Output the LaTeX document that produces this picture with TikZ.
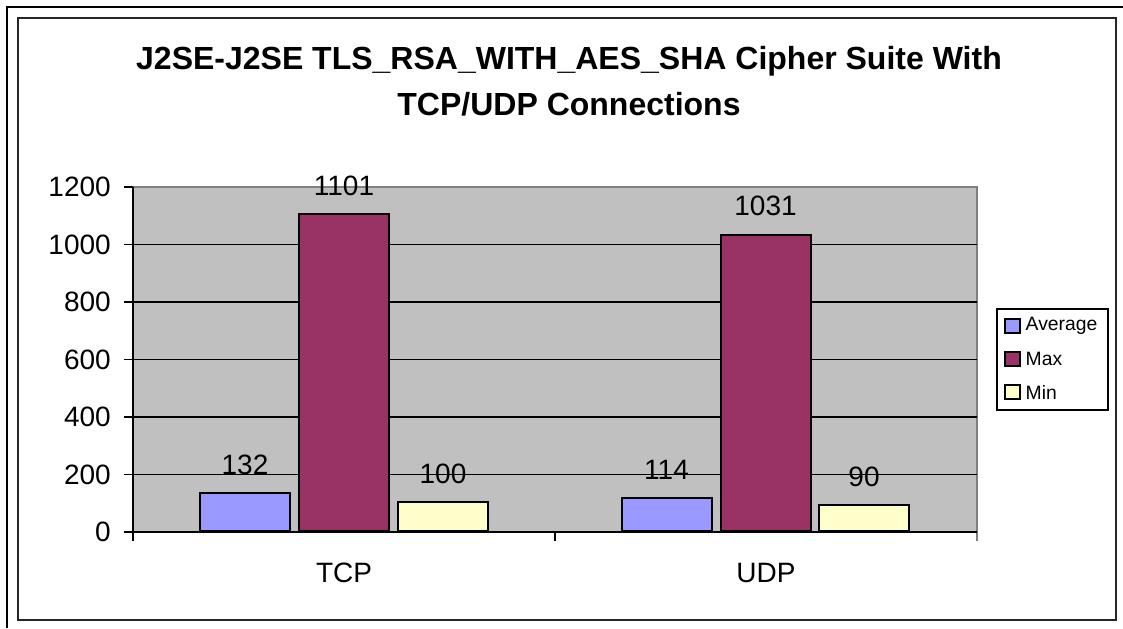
\documentclass[tikz,border=0pt]{standalone}
\usepackage{fontspec}
\setmainfont{Liberation Sans}
\usetikzlibrary{positioning}
\definecolor{avgblue}{HTML}{9999FF}
\definecolor{maxred}{HTML}{993366}
\definecolor{minyel}{HTML}{FFFFCC}
\definecolor{plotgray}{HTML}{C0C0C0}
\definecolor{framegray}{HTML}{808080}
\tikzset{
  bar/.style={draw, line width=1.5pt, anchor=south, minimum width=67.5pt, inner sep=0pt},
  val/.style={font=\fontsize{21}{21}\selectfont, inner sep=2pt},
  ylab/.style={font=\fontsize{21}{21}\selectfont, anchor=east, inner sep=0pt},
  key/.style={draw, line width=1.4pt, minimum size=11pt, inner sep=0pt},
  keytext/.style={font=\fontsize{14.5}{14.5}\selectfont, anchor=west, inner sep=0pt}
}
\begin{document}
\begin{tikzpicture}[x=0.75pt, y=-0.75pt]
      \useasboundingbox (0,0) rectangle (1123,628);
      % Frames
      \draw[line width=2pt] (7,628) -- (7,7) -- (1123,7);
      \draw[line width=1.5pt, draw=black!85] (18,18) rectangle (1116,620);

      % Title
      \node[font=\fontsize{24}{34.5}\selectfont\bfseries, align=center] at (569,81) (title)
        {J2SE-J2SE TLS\_RSA\_WITH\_AES\_SHA Cipher Suite With\\TCP/UDP Connections};

      % Plot area
      \fill[plotgray] (133,187) rectangle (977,532);
      \draw[framegray, line width=1pt] (133,187) -- (977,187) -- (977,541);
      \foreach \v/\y in {200/474.5, 400/417, 600/359.5, 800/302, 1000/244.5} {
        \draw[line width=0.8pt] (133,\y) -- (977,\y);
      }
      \draw[line width=0.8pt] (124,532) -- (977,532);
      \draw[line width=0.8pt] (133,187) -- (133,541);
      \draw[line width=0.8pt] (555,532) -- (555,541);
      \foreach \v/\y in {0/532, 200/474.5, 400/417, 600/359.5, 800/302, 1000/244.5, 1200/187} {
        \draw[line width=0.8pt] (124,\y) -- (133,\y);
        \node[ylab] at (111,\y) (y\v) {\v};
      }

      % Bars
      \node[bar, fill=avgblue, minimum height=28.46pt] at (245,532) (tcpavg) {};
      \node[bar, fill=maxred, minimum height=237.4pt] at (344,532) (tcpmax) {};
      \node[bar, fill=minyel, minimum height=21.56pt] at (443,532) (tcpmin) {};
      \node[bar, fill=avgblue, minimum height=24.58pt] at (666.5,532) (udpavg) {};
      \node[bar, fill=maxred, minimum height=222.31pt] at (765.5,532) (udpmax) {};
      \node[bar, fill=minyel, minimum height=19.41pt] at (864,532) (udpmin) {};

      \node[val, above=11pt of tcpavg] {132};
      \node[val, above=11pt of tcpmax] {1101};
      \node[val, above=11pt of tcpmin] {100};
      \node[val, above=11pt of udpavg] {114};
      \node[val, above=11pt of udpmax] {1031};
      \node[val, above=11pt of udpmin] {90};

      % Categories
      \node[val] at (344,573) (tcp) {TCP};
      \node[val] at (766,573) (udp) {UDP};

      % Legend
      \draw[line width=0.8pt] (997,309) rectangle (1108,410);
      \node[key, fill=avgblue] at (1012.5,326) (kavg) {};
      \node[key, fill=maxred] at (1012.5,359) (kmax) {};
      \node[key, fill=minyel] at (1012.5,392) (kmin) {};
      \node[keytext, right=3.5pt of kavg] {Average};
      \node[keytext, right=3.5pt of kmax] {Max};
      \node[keytext, right=3.5pt of kmin] {Min};
    \end{tikzpicture}
\end{document}
